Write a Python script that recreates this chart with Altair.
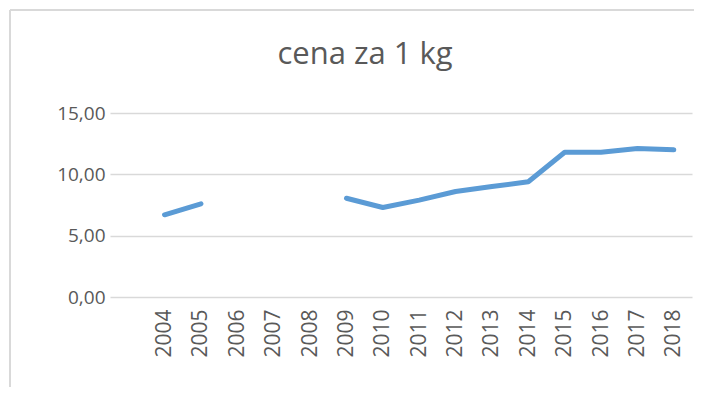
import altair as alt
import pandas as pd

years = ["", "2004", "2005", "2006", "2007", "2008", "2009", "2010", "2011",
         "2012", "2013", "2014", "2015", "2016", "2017", "2018"]
prices = [None, 6.7, 7.6, None, None, None, 8.05, 7.3, 7.9,
          8.6, 9.0, 9.4, 11.8, 11.8, 12.1, 12.0]
y_ticks = [0, 5, 10, 15]
title_text = "cena za 1 kg"

df = pd.DataFrame({"rok": years, "cena": prices})

FONT = "Open Sans"
GRAY = "#595959"

line = alt.Chart(df).mark_line(
    color="#5b9bd5", strokeWidth=5, strokeCap="round", strokeJoin="round",
    invalid="break-paths-filter-domains"
).encode(
    x=alt.X("rok:N", sort=years, scale=alt.Scale(domain=years),
            axis=alt.Axis(title=None, labelAngle=270, labelFontSize=21,
                          labelColor=GRAY, labelFont=FONT, ticks=False,
                          domain=False, labelPadding=12, grid=False)),
    y=alt.Y("cena:Q", scale=alt.Scale(domain=[0, 15], nice=False),
            axis=alt.Axis(title=None, values=y_ticks, labelFontSize=19,
                          labelColor=GRAY, labelFont=FONT, ticks=False,
                          domain=False, labelPadding=5, gridColor="#d9d9d9",
                          gridWidth=1.5,
                          labelExpr="replace(format(datum.value, '.2f'), '.', ',')")),
)

border_v = alt.Chart(df).mark_rule(color="#d9d9d9", strokeWidth=2).encode(
    x=alt.value(-100), y=alt.value(-103), y2=alt.value(300)
)
border_h = alt.Chart(df).mark_rule(color="#d9d9d9", strokeWidth=2).encode(
    x=alt.value(-100), x2=alt.value(700), y=alt.value(-103)
)

chart = alt.layer(border_v, border_h, line).properties(
    width=582, height=184,
    title=alt.Title(title_text, fontSize=31, font=FONT, fontWeight="normal",
                    color=GRAY, frame="group", baseline="alphabetic",
                    offset=-86, dx=-36, anchor="middle"),
    autosize=alt.AutoSizeParams(type="none"),
    padding={"left": 102, "top": 105, "right": 2, "bottom": 90},
).configure_view(stroke=None)

chart.save("out.html", embed_options={"renderer": "svg", "actions": False})
